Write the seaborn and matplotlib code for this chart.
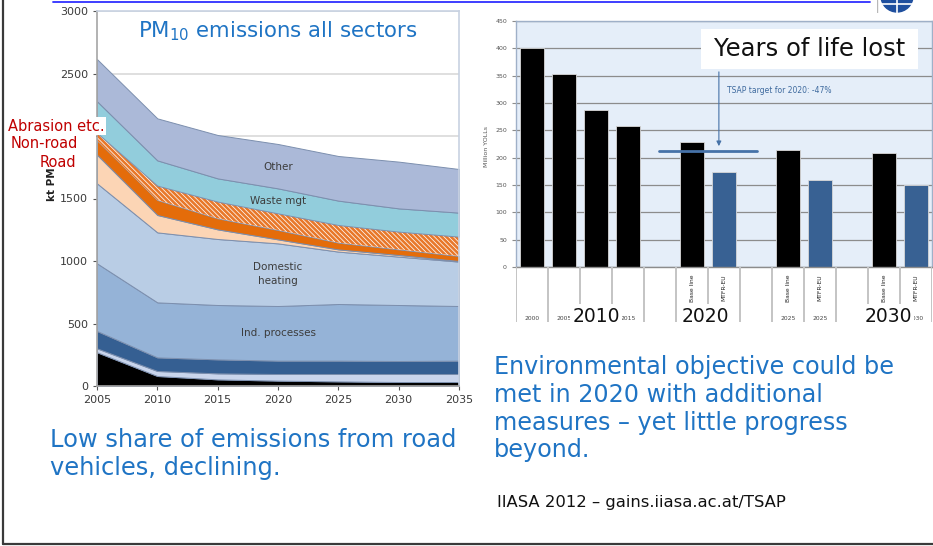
import matplotlib
matplotlib.use("Agg")
import matplotlib.pyplot as plt
from matplotlib.lines import Line2D
from matplotlib.patches import Rectangle, Circle
import numpy as np
import pandas as pd
import seaborn as sns

# ---------------- data: PM10 emissions by sector (kt) ----------------
years = [2005, 2010, 2015, 2020, 2025, 2030, 2035]
power = [270, 80, 53, 43, 37, 32, 32]
conversion = [31, 40, 48, 53, 59, 64, 64]
ind_combustion = [139, 109, 112, 107, 107, 104, 107]
ind_processes = [541, 440, 435, 437, 453, 448, 437]
domestic = [640, 560, 528, 501, 419, 387, 355]
road = [229, 139, 77, 32, 18, 13, 5]
nonroad = [115, 120, 88, 75, 54, 45, 40]
abrasion = [60, 115, 134, 133, 141, 142, 155]
waste = [253, 202, 186, 200, 195, 186, 192]
other = [337, 336, 347, 355, 357, 374, 349]

# ---------------- data: years of life lost (million YOLLs) ----------------
slot_order = ["2000", "2005", "2010", "2015", "gap_a",
              "2020 Baseline", "2020 MTFR-EU", "gap_b",
              "2025 Baseline", "2025 MTFR-EU", "gap_c",
              "2030 Baseline", "2030 MTFR-EU"]
bar_slots = ["2000", "2005", "2010", "2015",
             "2020 Baseline", "2020 MTFR-EU",
             "2025 Baseline", "2025 MTFR-EU",
             "2030 Baseline", "2030 MTFR-EU"]
yoll_values = [400, 353, 288, 258, 228, 173, 214, 159, 208, 150]
bar_scenarios = ["Historic", "Historic", "Historic", "Historic",
                 "Baseline", "MTFR-EU", "Baseline", "MTFR-EU",
                 "Baseline", "MTFR-EU"]
slot_scenario_labels = ["", "", "", "", "", "Base line", "MTFR-EU", "",
                        "Base line", "MTFR-EU", "", "Base line", "MTFR-EU"]
# small year captions left visible beside the large group years
slot_year_labels = ["2000", "2005", "", "2015", "", "", "", "",
                    "2025", "2025", "", "", "2030"]
target_2020 = 213

sns.set_theme(style="white")
plt.rcParams["font.family"] = ["DejaVu Sans"]
plt.rcParams["hatch.linewidth"] = 1.9

W, H = 933, 546
fig = plt.figure(figsize=(W / 100, H / 100), dpi=100)
fig.patch.set_facecolor("white")


def fx(px):
    return px / W


def fy(py):
    return 1 - py / H


def box(x0, y0, x1, y1):
    return [fx(x0), fy(y1), (x1 - x0) / W, (y1 - y0) / H]


# ---------------- slide frame ----------------
fig.add_artist(Line2D([fx(53), fx(870)], [fy(1.5), fy(1.5)], color="#2f2fff", lw=1.3))
fig.add_artist(Line2D([fx(3), fx(3)], [fy(0), fy(544)], color="#3a3a3a", lw=1.6))
fig.add_artist(Line2D([fx(3), fx(933)], [fy(544), fy(544)], color="#3a3a3a", lw=1.6))

# logo corner
lax = fig.add_axes(box(877, 0, 917, 13))
lax.set_xlim(0, 40)
lax.set_ylim(0, 13)
lax.axis("off")
lax.add_patch(Circle((20, 17), 16, color="#1f4f9e"))
lax.plot([0, 40], [9, 9], color="white", lw=1.2)
lax.plot([20, 20], [0, 13], color="white", lw=1.2)
lax.plot([0.3, 0.3], [0, 13], color="#b8b8b8", lw=1)

# ---------------- left: stacked area ----------------
ax1 = fig.add_axes(box(97, 11, 459, 386))
layers = [power, conversion, ind_combustion, ind_processes, domestic,
          road, nonroad, abrasion, waste, other]
colors = ["#000000", "#c9d5ec", "#355f92", "#95b3d7", "#b9cde5",
          "#fcd5b5", "#e46c0a", "#ffffff", "#92cddc", "#abb9d8"]
polys = ax1.stackplot(years, *layers, colors=colors,
                      edgecolor="#7c8fae", linewidth=0.7)
polys[7].set_edgecolor("#e8782a")
polys[7].set_hatch("\\" * 7)
polys[7].set_linewidth(0)
ax1.set_xlim(2005, 2035)
ax1.set_ylim(0, 3000)
ax1.set_yticks(range(0, 3001, 500))
ax1.set_xticks(years)
ax1.yaxis.grid(True, color="#d9d9d9", lw=1.2)
ax1.set_axisbelow(True)
ax1.tick_params(axis="both", labelsize=8, colors="#555555", labelcolor="#3a3a3a",
                length=3, width=0.8, left=True, bottom=True)
for s in ["left", "bottom"]:
    ax1.spines[s].set_color("#a6a6a6")
for s in ["top", "right"]:
    ax1.spines[s].set_color("#c8d2e2")
for s in ax1.spines.values():
    s.set_linewidth(1.2)

ax1.text(0.5, 0.945, "PM$_{10}$ emissions all sectors", transform=ax1.transAxes,
         ha="center", va="center", fontsize=15.3, color="#1f74c4")
for txt, yv in [("Other", 1750), ("Waste mgt", 1480), ("Domestic\nheating", 900),
                ("Ind. processes", 425)]:
    ax1.text(2020, yv, txt, ha="center", va="center", fontsize=7.5,
             color="#3c3c3c", linespacing=1.5)

fig.text(fx(52), fy(201), "kt PM", rotation=90, ha="center", va="bottom",
         fontsize=7.5, fontweight="bold", color="#222222")
# white panel behind the red sector captions
fig.add_artist(Rectangle((fx(5), fy(172)), fx(95.5) - fx(5), fy(133) - fy(172),
                         transform=fig.transFigure, facecolor="white",
                         edgecolor="none", zorder=3))
red_kw = dict(color="#c00000", fontsize=10.5, va="center", zorder=4)
fig.text(fx(40), fy(162), "Road", ha="left", **red_kw)
fig.text(fx(11), fy(144), "Non-road", ha="left", **red_kw)
fig.text(fx(8), fy(126), "Abrasion etc.", ha="left",
         bbox=dict(facecolor="white", edgecolor="none", pad=1.0), **red_kw)

fig.text(fx(50), fy(454), "Low share of emissions from road\nvehicles, declining.",
         ha="left", va="center", fontsize=17.4, color="#1f74c4", linespacing=1.17)

# ---------------- right: years of life lost ----------------
ax2 = fig.add_axes(box(516, 21, 932, 267))
df = pd.DataFrame({"slot": bar_slots, "yolls": yoll_values, "scenario": bar_scenarios})
palette = {"Historic": "#000000", "Baseline": "#000000", "MTFR-EU": "#386193"}
sns.barplot(data=df, x="slot", y="yolls", hue="scenario", order=slot_order,
            palette=palette, dodge=False, width=0.77, saturation=1,
            edgecolor="#d8d8d8", linewidth=0.6, legend=False, ax=ax2)
ax2.set_facecolor("#e5eef9")
ax2.set_xlim(-0.5, 12.5)
ax2.set_ylim(0, 450)
ax2.set_yticks(range(0, 451, 50))
ax2.set_xticks([])
ax2.set_xlabel("")
ax2.set_ylabel("")
ax2.yaxis.grid(True, color="#8c8c8c", lw=0.9)
ax2.set_axisbelow(True)
ax2.tick_params(axis="y", labelsize=4.5, labelcolor="#555555", colors="#8c8c8c",
                length=3, width=0.8, left=True)
for s in ax2.spines.values():
    s.set_color("#9fb0c8")
    s.set_linewidth(1)
ax2.spines["bottom"].set_color("#8c8c8c")
fig.text(fx(487), fy(147), "Million YOLLs", rotation=90, ha="center", va="center",
         fontsize=4.5, color="#555555")

# 2020 target line with annotation
ax2.plot([3.97, 7.03], [target_2020, target_2020], color="#4672a8", lw=2, zorder=4)
ax2.annotate("", xy=(5.84, target_2020 + 3), xytext=(5.84, 362),
             arrowprops=dict(arrowstyle="-|>", color="#4672a8", lw=0.8,
                             mutation_scale=7), zorder=4)
ax2.text(6.09, 322, "TSAP target for 2020: -47%", fontsize=5.5, color="#3e6a9e",
         ha="left", va="center")
ax2.add_patch(Rectangle((5.28, 362), 6.78, 73, facecolor="white", edgecolor="none",
                        zorder=5))
ax2.text(8.67, 399, "Years of life lost", fontsize=17.5, color="#111111",
         ha="center", va="center", zorder=6)

# category table under the bars
ax3 = fig.add_axes(box(516, 267, 932, 322))
ax3.set_xlim(-0.5, 12.5)
ax3.set_ylim(0, 1)
ax3.axis("off")
for b in np.arange(-0.5, 13.0, 1.0):
    ax3.plot([b, b], [0, 1], color="#c4c4c4", lw=1.4)
for i, lab in enumerate(slot_scenario_labels):
    if lab:
        ax3.text(i, 0.62, lab, rotation=90, ha="center", va="center",
                 fontsize=4.3, color="#222222")
for i, lab in enumerate(slot_year_labels):
    if lab:
        ax3.text(i, 0.07, lab, ha="center", va="center", fontsize=4.3,
                 color="#444444")
big_kw = dict(ha="center", va="center", fontsize=13.5, color="#111111",
              bbox=dict(facecolor="white", edgecolor="none", pad=1.5))
fig.text(fx(596), fy(316), "2010", **big_kw)
fig.text(fx(705), fy(316), "2020", **big_kw)
fig.text(fx(888), fy(316), "2030", **big_kw)

fig.text(fx(494), fy(355),
         "Environmental objective could be\nmet in 2020 with additional\n"
         "measures \u2013 yet little progress\nbeyond.",
         ha="left", va="top", fontsize=17.2, color="#1f74c4", linespacing=1.2)
fig.text(fx(497), fy(503), "IIASA 2012 \u2013 gains.iiasa.ac.at/TSAP",
         ha="left", va="center", fontsize=11.8, color="#111111",
         family=["Liberation Sans Narrow", "DejaVu Sans"])

fig.savefig("out.png", dpi=100)
